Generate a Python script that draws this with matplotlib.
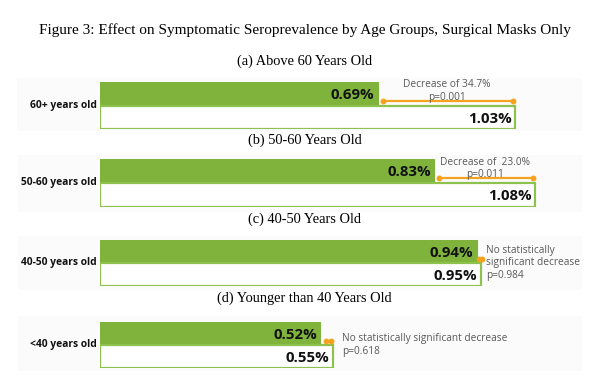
#!/usr/bin/env python3
"""
Figure 3: effect on symptomatic seroprevalence by age group,
surgical masks only. Four small paired-bar panels stacked vertically.
"""
import matplotlib
matplotlib.use('Agg')
import matplotlib.pyplot as plt
from matplotlib.patches import Rectangle

# ---- data ----
panel_titles = ['(a) Above 60 Years Old', '(b) 50-60 Years Old',
                '(c) 40-50 Years Old', '(d) Younger than 40 Years Old']
age_labels = ['60+ years old', '50-60 years old', '40-50 years old', '<40 years old']
treated = [0.69, 0.83, 0.94, 0.52]     # green bars (%)
control = [1.03, 1.08, 0.95, 0.55]     # white bars (%)
notes = ['Decrease of 34.7%\np=0.001',
         'Decrease of  23.0%\np=0.011',
         'No statistically\nsignificant decrease\np=0.984',
         'No statistically significant decrease\np=0.618']
significant = [True, True, False, False]

# ---- layout (pixels from top of a 609x382 canvas) ----
W, H = 609, 382
GREEN = '#80B33C'
EDGE = '#8DC24E'
ORANGE = '#F5A21E'
GREY_TXT = '#595959'

ax_top = [82, 159, 240, 322]
ax_bot = [129, 207, 286, 368]
bg_box = [(17, 78, 582, 131), (18, 155, 582, 212), (18, 236, 582, 290), (18, 316, 582, 371)]
sub_y = [61, 140, 219, 298]
px_per_unit = [403, 403, 401, 424]   # horizontal scale of each panel
bar_x0 = 100
ax_right = 590
side_off = [0, 0, 5, 9]

fig = plt.figure(figsize=(W / 100, H / 100), dpi=100, facecolor='white')

fig.text(0.5, 1 - 30 / H, 'Figure 3: Effect on Symptomatic Seroprevalence by Age Groups, Surgical Masks Only',
         ha='center', va='center', fontsize=11, family='Liberation Serif')

for i in range(4):
    # faint grey backdrop behind each pasted panel
    x0, y0, x1, y1 = bg_box[i]
    fig.patches.append(Rectangle((x0 / W, 1 - y1 / H), (x1 - x0) / W, (y1 - y0) / H,
                                 transform=fig.transFigure, facecolor='#fbfbfb',
                                 edgecolor='none', zorder=-5))

    fig.text(0.5, 1 - sub_y[i] / H, panel_titles[i], ha='center', va='center',
             fontsize=10.4, family='Liberation Serif')

    ax = fig.add_axes([bar_x0 / W, 1 - ax_bot[i] / H,
                       (ax_right - bar_x0) / W, (ax_bot[i] - ax_top[i]) / H])
    ax.set_zorder(2)
    ax.set_facecolor('none')
    ax.set_xlim(0, (ax_right - bar_x0) / px_per_unit[i])
    ax.set_ylim(-0.5, 1.5)
    ax.axis('off')

    ax.barh(1, treated[i], height=1.0, color=GREEN, edgecolor=GREEN, linewidth=0.8)
    ax.barh(0, control[i], height=0.97, color='white', edgecolor=EDGE, linewidth=1.6)

    ax.annotate(f'{treated[i]:.2f}%', xy=(treated[i], 1), xytext=(-2.5, -1),
                textcoords='offset points', ha='right', va='center',
                fontsize=10.8, fontweight='bold', family='Open Sans', color='#111111')
    ax.annotate(f'{control[i]:.2f}%', xy=(control[i], 0), xytext=(-2.5, -1),
                textcoords='offset points', ha='right', va='center',
                fontsize=10.8, fontweight='bold', family='Open Sans', color='#111111')

    ax.text(-0.006, 0.5, age_labels[i], transform=ax.transAxes, ha='right', va='center',
            fontsize=7.4, fontweight='bold', family='Open Sans', color='#111111')

    # orange bracket between the two bar ends
    y_line = 0.7 if significant[i] else 0.67
    ax.plot([treated[i] + 0.012, control[i] - 0.005], [y_line, y_line], color=ORANGE,
            lw=1.6, marker='o', ms=3.2, solid_capstyle='round', clip_on=False)

    if significant[i]:
        mid = (treated[i] + control[i]) / 2
        ax.text(mid, y_line - 0.08, notes[i], ha='center', va='bottom', fontsize=7.3,
                family='Open Sans', color=GREY_TXT, linespacing=1.2)
    else:
        ax.annotate(notes[i], xy=(control[i], 0.5), xytext=(side_off[i] * 0.72, 0),
                    textcoords='offset points', ha='left', va='center', fontsize=7.3,
                    family='Open Sans', color=GREY_TXT, linespacing=1.2)

plt.savefig('out.png', dpi=100, facecolor='white')
plt.close()
